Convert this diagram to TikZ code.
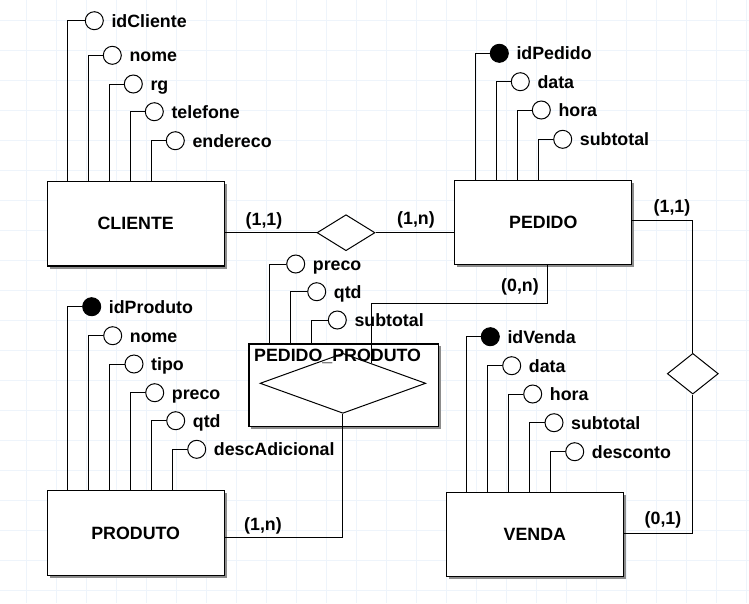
\documentclass[tikz,border=0pt]{standalone}
\usepackage{fontspec}
\setmainfont{Liberation Sans}
\usetikzlibrary{positioning,shapes.geometric,shadows,calc,backgrounds}
\pgfdeclarelayer{background}
\pgfsetlayers{background,main}
\definecolor{gridblue}{RGB}{238,244,251}
\tikzset{
  base/.style={draw=black,fill=white,inner sep=0pt},
  entity/.style={
    base,rectangle,line width=1.2pt,minimum width=177pt,minimum height=84.5pt,
    drop shadow={shadow xshift=2.5pt,shadow yshift=-2.5pt,fill=black!45,opacity=1}
  },
  relation/.style={base,diamond,line width=1pt},
  attr/.style={base,circle,line width=1pt,minimum size=18pt},
  keyattr/.style={attr,fill=black},
  attrtext/.style={inner sep=0pt,text height=13pt,text depth=0pt},
  card/.style={inner sep=0pt},
  attrline/.style={draw=black,line width=1pt},
  relline/.style={draw=black,line width=1pt},
  gridline/.style={draw=gridblue,line width=0.75pt}
}

\begin{document}
\begin{tikzpicture}[
    x=1pt,y=-1pt,every node/.style={font=\fontsize{17.8}{20}\selectfont\bfseries}
  ]
    \useasboundingbox (0,0) rectangle (749,603);

    \node[entity] (cliente) at (135.7,223.8) {CLIENTE};
    \node[entity] (pedido) at (543.3,222.5) {PEDIDO};
    \node[entity] (produto) at (135.7,533) {PRODUTO};
    \node[entity] (venda) at (534.8,534.5) {VENDA};
    \node[entity,minimum width=189.8pt,minimum height=82.2pt] (pedprod)
      at (343.8,385) {};
    \node[relation,minimum width=165.7pt,minimum height=60pt] (ppdiamond)
      at (342.9,383.3) {};
    \node[anchor=west,inner sep=0pt] (pptitle) at (254,356.3) {PEDIDO\_PRODUTO};
    \node[relation,minimum width=58pt,minimum height=36pt] (relpedido)
      at (346,232.7) {};
    \node[relation,minimum width=51pt,minimum height=40.7pt] (relvenda)
      at (692.8,373.7) {};

    \node[attr] (cliid) at (94.3,20.7) {};
    \node[attrtext,right=7.5pt of cliid] (cliidtxt) {idCliente};
    \node[attr] (clinome) at (112.3,55.3) {};
    \node[attrtext,right=7.5pt of clinome] (clinometxt) {nome};
    \node[attr] (clirg) at (133.3,84) {};
    \node[attrtext,right=7.5pt of clirg] (clirgtxt) {rg};
    \node[attr] (clitel) at (154.3,111.7) {};
    \node[attrtext,right=7.5pt of clitel] (clitelttxt) {telefone};
    \node[attr] (cliend) at (175.3,140.7) {};
    \node[attrtext,right=7.5pt of cliend] (cliendtxt) {endereco};

    \node[keyattr] (pedid) at (499.3,53.3) {};
    \node[attrtext,right=7.5pt of pedid] (pedidtxt) {idPedido};
    \node[attr] (peddata) at (520.3,81.7) {};
    \node[attrtext,right=7.5pt of peddata] (peddatatxt) {data};
    \node[attr] (pedhora) at (541.3,110) {};
    \node[attrtext,right=7.5pt of pedhora] (pedhoratxt) {hora};
    \node[attr] (pedsub) at (562.7,139.3) {};
    \node[attrtext,right=7.5pt of pedsub] (pedsubtxt) {subtotal};

    \node[attr] (pppreco) at (295.7,264) {};
    \node[attrtext,right=7.5pt of pppreco] (ppprecotxt) {preco};
    \node[attr] (ppqtd) at (316.7,291.7) {};
    \node[attrtext,right=7.5pt of ppqtd] (ppqtdtxt) {qtd};
    \node[attr] (ppsub) at (337.3,320) {};
    \node[attrtext,right=7.5pt of ppsub] (ppsubtxt) {subtotal};

    \node[keyattr] (proid) at (91.7,306.7) {};
    \node[attrtext,right=7.5pt of proid] (proidtxt) {idProduto};
    \node[attr] (pronome) at (112.7,335.7) {};
    \node[attrtext,right=7.5pt of pronome] (pronometxt) {nome};
    \node[attr] (protipo) at (134,364) {};
    \node[attrtext,right=7.5pt of protipo] (protipotxt) {tipo};
    \node[attr] (propreco) at (154.7,392.7) {};
    \node[attrtext,right=7.5pt of propreco] (proprecotxt) {preco};
    \node[attr] (proqtd) at (175.7,420.7) {};
    \node[attrtext,right=7.5pt of proqtd] (proqtdtxt) {qtd};
    \node[attr] (prodesc) at (196.7,449.3) {};
    \node[attrtext,right=7.5pt of prodesc] (prodesctxt) {descAdicional};

    \node[keyattr] (venid) at (490.3,336.7) {};
    \node[attrtext,right=7.5pt of venid] (venidtxt) {idVenda};
    \node[attr] (vendata) at (511.7,365.7) {};
    \node[attrtext,right=7.5pt of vendata] (vendatatxt) {data};
    \node[attr] (venhora) at (532.7,394) {};
    \node[attrtext,right=7.5pt of venhora] (venhoratxt) {hora};
    \node[attr] (vensub) at (554,422.7) {};
    \node[attrtext,right=7.5pt of vensub] (vensubtxt) {subtotal};
    \node[attr] (vendesc) at (574.7,451.7) {};
    \node[attrtext,right=7.5pt of vendesc] (vendesctxt) {desconto};

    \node[card] (cardcli) at (264,221) {(1,1)};
    \node[card] (cardped) at (416,220) {(1,n)};
    \node[card] (cardpedven) at (672,208.3) {(1,1)};
    \node[card] (cardpedpp) at (520,286.7) {(0,n)};
    \node[card] (cardpro) at (263,525.7) {(1,n)};
    \node[card] (cardven) at (663,520) {(0,1)};

    \draw[attrline] (cliid.west) -| ([xshift=21pt]cliente.north west);
    \draw[attrline] (clinome.west) -| ([xshift=42pt]cliente.north west);
    \draw[attrline] (clirg.west) -| ([xshift=63pt]cliente.north west);
    \draw[attrline] (clitel.west) -| ([xshift=84pt]cliente.north west);
    \draw[attrline] (cliend.west) -| ([xshift=105pt]cliente.north west);

    \draw[attrline] (pedid.west) -| ([xshift=21pt]pedido.north west);
    \draw[attrline] (peddata.west) -| ([xshift=42pt]pedido.north west);
    \draw[attrline] (pedhora.west) -| ([xshift=63pt]pedido.north west);
    \draw[attrline] (pedsub.west) -| ([xshift=84pt]pedido.north west);

    \draw[attrline] (pppreco.west) -| ([xshift=21pt]pedprod.north west);
    \draw[attrline] (ppqtd.west) -| ([xshift=42pt]pedprod.north west);
    \draw[attrline] (ppsub.west) -| ([xshift=63pt]pedprod.north west);

    \draw[attrline] (proid.west) -| ([xshift=21pt]produto.north west);
    \draw[attrline] (pronome.west) -| ([xshift=42pt]produto.north west);
    \draw[attrline] (protipo.west) -| ([xshift=63pt]produto.north west);
    \draw[attrline] (propreco.west) -| ([xshift=84pt]produto.north west);
    \draw[attrline] (proqtd.west) -| ([xshift=105pt]produto.north west);
    \draw[attrline] (prodesc.west) -| ([xshift=126pt]produto.north west);

    \draw[attrline] (venid.west) -| ([xshift=21pt]venda.north west);
    \draw[attrline] (vendata.west) -| ([xshift=42pt]venda.north west);
    \draw[attrline] (venhora.west) -| ([xshift=63pt]venda.north west);
    \draw[attrline] (vensub.west) -| ([xshift=84pt]venda.north west);
    \draw[attrline] (vendesc.west) -| ([xshift=105pt]venda.north west);

    \coordinate (ppin) at ($(ppdiamond.north)!0.34!(ppdiamond.east)$);
    \draw[relline] (relpedido.west) -- (relpedido.west -| cliente.east);
    \draw[relline] (relpedido.east) -- (relpedido.east -| pedido.west);
    \draw[relline] ([yshift=2.5pt]pedido.east) -| (relvenda.north);
    \draw[relline] (relvenda.south) |- ([yshift=1pt]venda.east);
    \draw[relline] ([xshift=4.4pt]pedido.south) -- ++(0,38.6) -| (ppin);
    \draw[relline] (ppdiamond.south) |- ([yshift=-4.7pt]produto.east);

    \begin{pgfonlayer}{background}
      \fill[white] (0,0) rectangle (749,603);
      \begin{scope}[shift={(26.7,20)}]
        \draw[gridline,step=30pt] (-26.7,-20) grid (722.3,583);
      \end{scope}
    \end{pgfonlayer}
  \end{tikzpicture}
\end{document}
